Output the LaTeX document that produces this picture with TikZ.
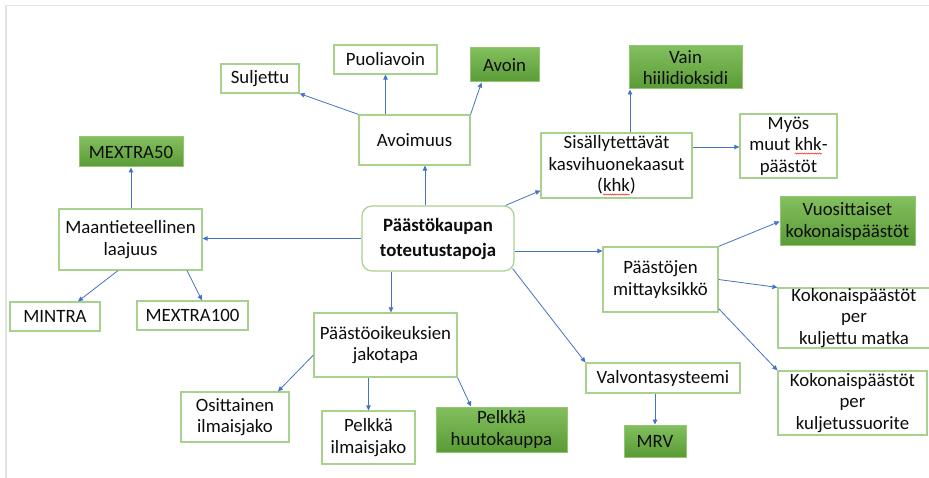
\documentclass[tikz,border=0pt]{standalone}
\usepackage{fontspec}
\setmainfont{Carlito}
\usetikzlibrary{calc,arrows.meta,decorations.pathmorphing}
\definecolor{boxline}{HTML}{A9D18E}
\definecolor{arrowblue}{HTML}{4472C4}
\definecolor{gtop}{HTML}{82BF5E}
\definecolor{gbot}{HTML}{5A9B36}
\definecolor{gline}{HTML}{93C572}
\definecolor{framegrey}{HTML}{E3E3E3}
\definecolor{txt}{HTML}{0D0D0D}
\newcommand{\spellw}[1]{\tikz[baseline=(wv.base)]{\node[inner sep=0pt,outer sep=0pt,draw=none,fill=none,minimum width=0pt,minimum height=0pt](wv){#1};\draw[red, line width=0.4pt, decorate, decoration={snake, amplitude=0.6pt, segment length=2.2pt}] ([yshift=-2.8pt]wv.base west) -- ([yshift=-2.8pt]wv.base east);}}
\begin{document}
\begin{tikzpicture}[x=1pt,y=-1pt,
  every node/.style={font=\fontsize{18.8}{21.5}\selectfont, text=txt},
  wbox/.style={draw=boxline, line width=1.2pt, fill=white, inner sep=0pt, align=center},
  gbox/.style={draw=gline, line width=1pt, top color=gtop, bottom color=gbot, inner sep=0pt, align=center},
  arr/.style={draw=arrowblue, line width=0.8pt, -{Triangle[length=5pt,width=4.5pt]}},
]
\useasboundingbox (0,0) rectangle (929,478);
\draw[framegrey, line width=1.5pt] (929,5.5) -- (6,5.5) -- (6,478);

% nodes
\node[wbox, minimum width=78pt, minimum height=29pt] (sulj) at (260,78.5) {Suljettu};
\node[wbox, minimum width=103pt, minimum height=29pt] (puoli) at (385.5,59.5) {Puoliavoin};
\node[gbox, minimum width=69pt, minimum height=34pt] (avoin) at (504.5,65) {Avoin};
\node[wbox, minimum width=111pt, minimum height=50pt] (avoim) at (414.5,140) {Avoimuus};
\node[gbox, minimum width=113pt, minimum height=43pt] (vain) at (685.5,67.5) {Vain\\hiilidioksidi};
\node[wbox, minimum width=97pt, minimum height=64pt] (myos) at (788.5,146) {Myös\\muut \spellw{khk}-\\päästöt};
\node[wbox, minimum width=151pt, minimum height=65pt] (sis) at (616.5,165.5) {Sisällytettävät\\kasvihuonekaasut\\(\spellw{khk})};
\node[gbox, minimum width=104pt, minimum height=30pt] (mex50) at (131,152) {MEXTRA50};
\node[wbox, minimum width=143pt, minimum height=61pt] (maan) at (130.5,239.5) {Maantieteellinen\\laajuus};
\node[wbox, rounded corners=10pt, minimum width=152pt, minimum height=65pt, font=\fontsize{18.8}{21.5}\selectfont\bfseries] (central) at (438,238.5) {Päästökaupan\\[3.5pt]toteutustapoja};
\node[gbox, minimum width=135pt, minimum height=49pt] (vuos) at (847.5,221.5) {Vuosittaiset\\kokonaispäästöt};
\node[wbox, minimum width=115pt, minimum height=65pt] (paast) at (660.5,279.5) {Päästöjen\\mittayksikkö};
\node[wbox, minimum width=152pt, minimum height=60pt] (matka) at (854,318) {Kokonaispäästöt\\per\\kuljettu matka};
\node[wbox, minimum width=149pt, minimum height=64pt] (suor) at (852.5,403) {Kokonaispäästöt\\per\\kuljetussuorite};
\node[wbox, minimum width=90pt, minimum height=29pt] (mintra) at (55,316.5) {MINTRA};
\node[wbox, minimum width=111pt, minimum height=29pt] (mex100) at (192.5,315.5) {MEXTRA100};
\node[wbox, minimum width=143pt, minimum height=64pt] (jako) at (385.5,345) {Päästöoikeuksien\\jakotapa};
\node[wbox, minimum width=154pt, minimum height=30pt] (valv) at (663,378) {Valvontasysteemi};
\node[gbox, minimum width=62pt, minimum height=32pt] (mrv) at (655,441) {MRV};
\node[wbox, minimum width=108pt, minimum height=50pt] (osit) at (235,417) {Osittainen\\ilmaisjako};
\node[wbox, minimum width=93pt, minimum height=53pt] (pilm) at (368.5,437.5) {Pelkkä\\ilmaisjako};
\node[gbox, minimum width=131pt, minimum height=45pt] (huuto) at (501.5,429.5) {Pelkkä\\huutokauppa};

% connectors
\draw[arr] ($(central.north)+(-13,0)$) coordinate (c1) -- (c1 |- avoim.south);
\draw[arr] (avoim.north west) -- (sulj.south east);
\draw[arr] (puoli.south |- avoim.north) -- (puoli.south);
\draw[arr] (avoim.north east) -- ($(avoin.south west)+(12,0)$);
\draw[arr] ($(central.north east)+(-9,0)$) -- ($(sis.south west)+(0,-8)$);
\draw[arr] ($(sis.north)+(13.5,0)$) coordinate (c2) -- (c2 |- vain.south);
\draw[arr] ($(sis.east)+(0,-18.5)$) coordinate (c3) -- (c3 -| myos.west);
\draw[arr] (central.west) -- (central.west -| maan.east);
\draw[arr] (mex50.south |- maan.north) -- (mex50.south);
\draw[arr] ($(maan.south)+(-12.5,0)$) -- ($(mintra.north)+(23,0)$);
\draw[arr] ($(maan.south)+(56.5,0)$) -- ($(mex100.north)+(9.5,0)$);
\draw[arr] ($(central.south)+(-47,0)$) coordinate (c4) -- (c4 |- jako.north);
\draw[arr] ($(jako.west)+(0,10)$) -- ($(osit.north)+(43,0)$);
\draw[arr] (pilm.north |- jako.south) -- (pilm.north);
\draw[arr] (jako.south east) -- ($(huuto.north)+(-30.5,0)$);
\draw[arr] ($(central.east)+(0,12.5)$) coordinate (c5) -- (c5 -| paast.west);
\draw[arr] ($(central.south east)+(-2,-3)$) -- (valv.north west);
\draw[arr] (paast.north east) -- (vuos.west);
\draw[arr] (paast.east) -- (matka.north west);
\draw[arr] ($(paast.south east)+(0,-4)$) -- (suor.north west);
\draw[arr] (mrv.north |- valv.south) -- (mrv.north);
\end{tikzpicture}
\end{document}
